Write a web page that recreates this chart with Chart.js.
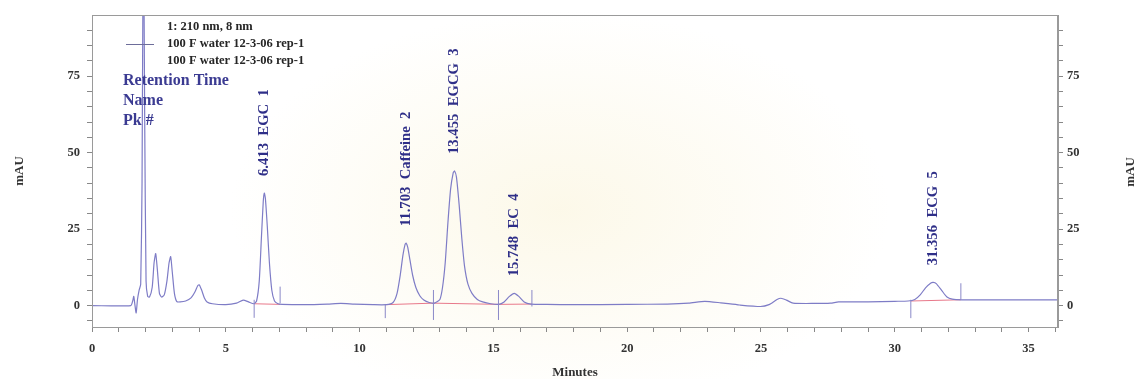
<!DOCTYPE html>
<html>
<head>
<meta charset="utf-8">
<script src="https://cdn.jsdelivr.net/npm/chart.js@4/dist/chart.umd.min.js"></script>
<style>
  html, body { margin: 0; padding: 0; background: #fff; }
  #wrap {
    width: 1134px; height: 379px;
    background: radial-gradient(ellipse 330px 200px at 560px 210px, rgba(250, 243, 215, 0.55), rgba(255, 255, 255, 0));
  }
</style>
</head>
<body>
<div id="wrap"><canvas id="chromChart" width="1134" height="379"></canvas></div>
<script>
// chromatogram trace (minutes, mAU)
const traceTime = [
  0, 1.45, 1.52, 1.56, 1.60, 1.65, 1.70, 1.76, 1.82, 1.87, 1.92, 1.97, 2.02, 2.08, 2.15,
  2.25, 2.32, 2.38, 2.44, 2.52, 2.60, 2.70, 2.80, 2.88, 2.94, 3.00, 3.08, 3.17, 3.30, 3.50,
  3.70, 3.85, 3.95, 4.01, 4.10, 4.20, 4.30, 4.50, 5.00, 5.40, 5.65, 5.85, 6.05, 6.15, 6.25,
  6.33, 6.40, 6.44, 6.48, 6.55, 6.63, 6.72, 6.82, 6.95, 7.10, 8.00, 8.80, 9.30, 9.80, 10.5,
  11.0, 11.25, 11.40, 11.52, 11.62, 11.70, 11.74, 11.80, 11.88, 11.98, 12.10, 12.25, 12.40, 12.60, 12.80,
  13.00, 13.10, 13.20, 13.30, 13.40, 13.50, 13.55, 13.62, 13.72, 13.82, 13.92, 14.05, 14.20, 14.40, 14.60,
  14.90, 15.20, 15.40, 15.60, 15.78, 15.95, 16.15, 16.40, 17.0, 18.0, 20.0, 21.5, 22.3, 22.9, 23.5,
  24.2, 24.98, 25.3, 25.6, 25.75, 25.95, 26.2, 27.0, 27.6, 27.9, 29.0, 30.0, 30.5, 30.75, 30.95,
  31.15, 31.35, 31.44, 31.55, 31.75, 31.95, 32.15, 32.5, 34.0, 36.1
];
const traceSignal = [
  0, 0, 1.5, 3.0, 0.5, -2.4, 2, 5, 7, 40, 130, 60, 8, 3, 2.8,
  6, 14, 17, 12, 4, 2.8, 3.5, 8, 14, 16, 11, 4, 1.3, 1.2, 1.5,
  2.5, 4.5, 6.5, 6.8, 5, 2.5, 1.2, 0.6, 0.3, 0.8, 1.8, 1.2, 0.6, 1.5, 8,
  22, 34, 36.8, 35, 26, 14, 5, 1.5, 0.6, 0.4, 0.3, 0.5, 0.7, 0.5, 0.3,
  0.3, 1, 4, 10, 16.5, 20, 20.4, 19, 15, 10, 6, 3.2, 1.8, 1, 0.8,
  2, 6, 14, 27, 38, 43.5, 44, 42, 33, 22, 13, 7, 4, 2, 1.2,
  0.6, 0.4, 1.2, 3, 4, 3, 1.2, 0.5, 0.4, 0.3, 0.4, 0.5, 0.8, 1.4, 0.9,
  0.2, -0.3, 0.3, 2.0, 2.4, 1.8, 0.8, 0.7, 0.8, 1.2, 1.2, 1.4, 1.5, 2, 3.5,
  5.8, 7.4, 7.6, 7.2, 5, 2.8, 2.1, 1.9, 1.9, 1.9
];

// integration marks
const markTime = [6.06, 7.03, 10.96, 12.76, 15.19, 16.44, 30.6, 32.47];
const markLow  = [-4, 0.8, -4.1, -4.7, -4.7, -0.3, -4.1, 1.9];
const markHigh = [1.9, 6.2, 0.2, 5.1, 5.1, 5.1, 1.9, 7.3];

// baselines drawn under integrated peaks
const baseFromTime = [6.05, 10.96, 12.76, 15.19, 30.6];
const baseFromY    = [0.6, 0.3, 0.8, 0.4, 1.5];
const baseToTime   = [7.03, 12.76, 15.19, 16.44, 32.47];
const baseToY      = [0.4, 0.8, 0.4, 0.5, 1.9];

// peak labels
const peakTime   = [6.44, 11.74, 13.55, 15.78, 31.44];
const peakHeight = [36.8, 20.4, 44, 4, 7.6];
const peakLabel  = ['6.413  EGC  1', '11.703  Caffeine  2', '13.455  EGCG  3', '15.748  EC  4', '31.356  ECG  5'];

const xTicks = Array.from({ length: 37 }, (_, i) => i);
const yTicks = [-5, 0, 5, 10, 15, 20, 25, 30, 35, 40, 45, 50, 55, 60, 65, 70, 75, 80, 85, 90];

const legendLines = ['1: 210 nm, 8 nm', '100 F water 12-3-06 rep-1', '100 F water 12-3-06 rep-1'];
const infoLines = ['Retention Time', 'Name', 'Pk #'];

const serif = "'Liberation Serif', 'DejaVu Serif', serif";
const traceColor = '#7e7cc6';
const labelColor = '#2f2f88';

const datasets = [{
  data: traceTime.map((t, i) => ({ x: t, y: traceSignal[i] })),
  borderColor: traceColor,
  borderWidth: 1.2,
  pointRadius: 0,
  tension: 0.2,
  order: 1
}];

baseFromTime.forEach((t, i) => {
  datasets.push({
    data: [{ x: t, y: baseFromY[i] }, { x: baseToTime[i], y: baseToY[i] }],
    borderColor: '#e8788a',
    borderWidth: 1,
    pointRadius: 0,
    order: 2
  });
});

markTime.forEach((t, i) => {
  datasets.push({
    data: [{ x: t, y: markLow[i] }, { x: t, y: markHigh[i] }],
    borderColor: '#8a88c8',
    borderWidth: 1,
    pointRadius: 0,
    order: 0
  });
});

const annotate = {
  id: 'annotate',
  afterDatasetsDraw(chart) {
    const { ctx, chartArea, scales: { x, y } } = chart;
    ctx.save();
    ctx.strokeStyle = '#9a9a9a';
    ctx.lineWidth = 1;
    ctx.strokeRect(chartArea.left + 0.5, chartArea.top + 0.5, chartArea.width - 1, chartArea.height);

    // peak labels, rotated
    ctx.fillStyle = labelColor;
    ctx.font = 'bold 14.7px ' + serif;
    ctx.textAlign = 'left';
    ctx.textBaseline = 'middle';
    peakTime.forEach((t, i) => {
      const px = x.getPixelForValue(t);
      const py = y.getPixelForValue(peakHeight[i]) - 17;
      ctx.save();
      ctx.translate(px, py);
      ctx.rotate(-Math.PI / 2);
      ctx.fillText(peakLabel[i], 0, 0);
      ctx.restore();
    });

    // right axis title, cut by the page edge
    ctx.fillStyle = '#333';
    ctx.font = 'bold 13px ' + serif;
    ctx.textAlign = 'center';
    ctx.save();
    ctx.translate(1131, 172);
    ctx.rotate(-Math.PI / 2);
    ctx.fillText('mAU', 0, 0);
    ctx.restore();

    // legend block
    ctx.textAlign = 'left';
    ctx.fillStyle = '#262626';
    ctx.font = 'bold 12.5px ' + serif;
    legendLines.forEach((s, i) => ctx.fillText(s, 167, 27 + i * 17));
    ctx.strokeStyle = '#6d6d9a';
    ctx.beginPath();
    ctx.moveTo(126, 44.5);
    ctx.lineTo(154, 44.5);
    ctx.stroke();

    ctx.fillStyle = '#3b3b92';
    ctx.font = 'bold 16px ' + serif;
    infoLines.forEach((s, i) => ctx.fillText(s, 123, 81 + i * 20));
    ctx.restore();
  }
};

const tickFont = { family: serif, size: 12.5, weight: 'bold' };

new Chart(document.getElementById('chromChart'), {
  type: 'line',
  data: { datasets },
  options: {
    responsive: false,
    animation: false,
    layout: { padding: { top: 15, left: 0, right: 0, bottom: 0 } },
    plugins: { legend: { display: false }, tooltip: { enabled: false } },
    scales: {
      x: {
        type: 'linear',
        min: 0,
        max: 36.1,
        afterBuildTicks: (axis) => { axis.ticks = xTicks.map((v) => ({ value: v })); },
        afterFit: (axis) => { axis.height = 52; },
        ticks: {
          autoSkip: false,
          maxRotation: 0,
          padding: 9,
          color: '#333',
          font: tickFont,
          callback: (v) => (v % 5 === 0 ? v : '')
        },
        grid: { drawOnChartArea: false, tickLength: 5, tickColor: '#888' },
        border: { color: '#9a9a9a' },
        title: {
          display: true,
          text: 'Minutes',
          color: '#333',
          font: { family: serif, size: 13, weight: 'bold', lineHeight: 1 },
          padding: { top: 0, bottom: 0 }
        }
      },
      y: {
        position: 'left',
        min: -7,
        max: 95,
        afterBuildTicks: (axis) => { axis.ticks = yTicks.map((v) => ({ value: v })); },
        afterFit: (axis) => { axis.width = 92; },
        ticks: {
          autoSkip: false,
          padding: 7,
          color: '#333',
          font: tickFont,
          callback: (v) => (v % 25 === 0 ? v : '')
        },
        grid: { drawOnChartArea: false, tickLength: 5, tickColor: '#888' },
        border: { color: '#9a9a9a' },
        title: {
          display: true,
          text: 'mAU',
          color: '#333',
          font: { family: serif, size: 13, weight: 'bold', lineHeight: 1.2 },
          padding: { top: 12, bottom: 0 }
        }
      },
      y2: {
        position: 'right',
        min: -7,
        max: 95,
        afterBuildTicks: (axis) => { axis.ticks = yTicks.map((v) => ({ value: v })); },
        afterFit: (axis) => { axis.width = 76; },
        ticks: {
          autoSkip: false,
          padding: 4,
          color: '#333',
          font: tickFont,
          callback: (v) => (v % 25 === 0 ? v : '')
        },
        grid: { drawOnChartArea: false, tickLength: 5, tickColor: '#888' },
        border: { color: '#9a9a9a' }
      }
    }
  },
  plugins: [annotate]
});
</script>
</body>
</html>
